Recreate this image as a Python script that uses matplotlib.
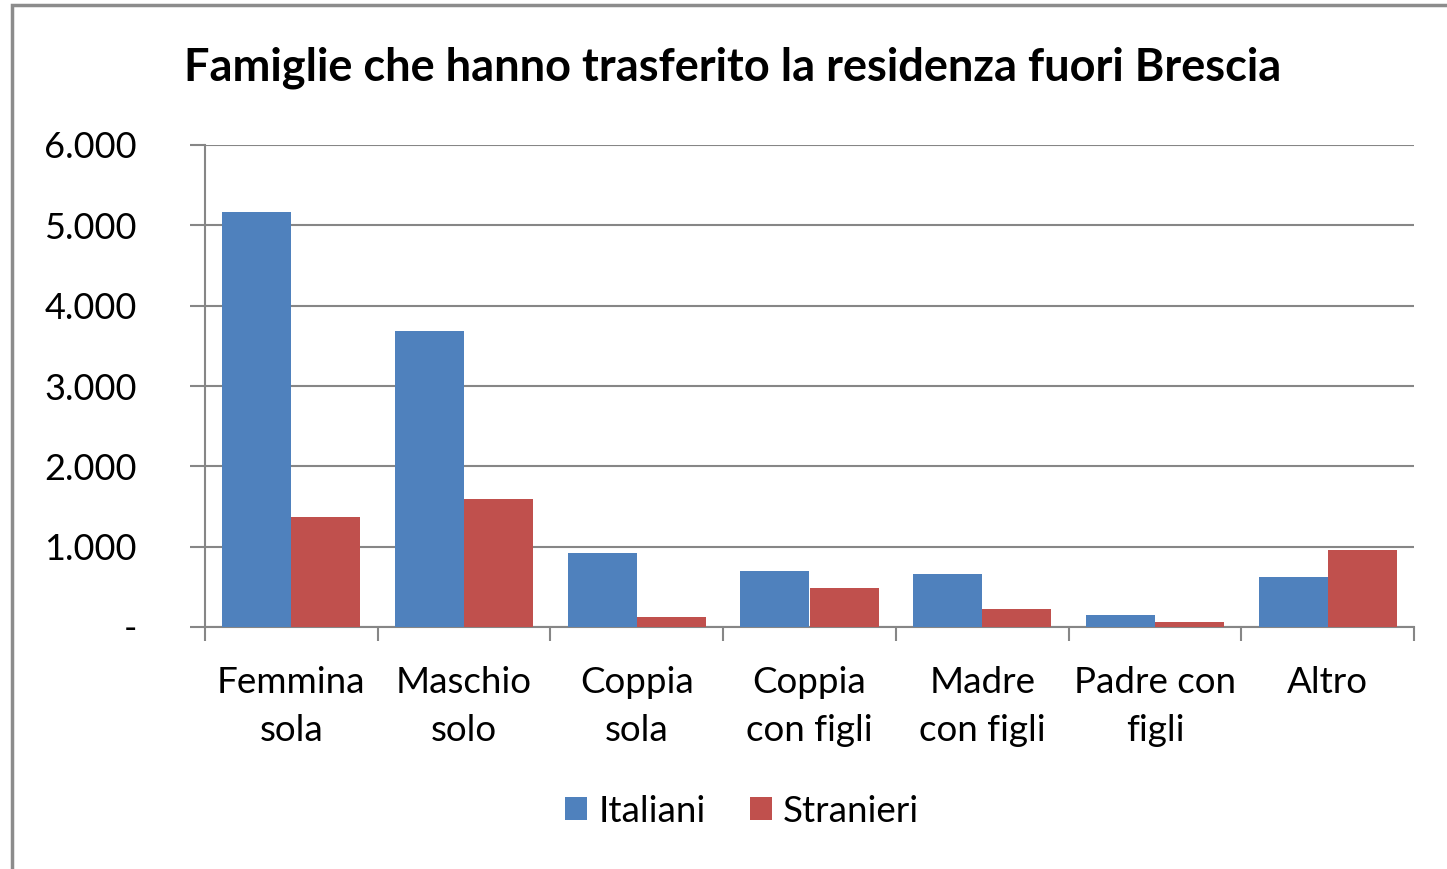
import matplotlib
matplotlib.use("Agg")
import matplotlib.pyplot as plt
import numpy as np
from matplotlib.patches import Rectangle
from matplotlib.ticker import FuncFormatter

categories = ["Femmina\nsola", "Maschio\nsolo", "Coppia\nsola", "Coppia\ncon figli",
              "Madre\ncon figli", "Padre con\nfigli", "Altro"]
italiani = [5170, 3685, 915, 700, 655, 150, 628]
stranieri = [1375, 1590, 128, 490, 224, 58, 962]
yticks = [0, 1000, 2000, 3000, 4000, 5000, 6000]
title = "Famiglie che hanno trasferito la residenza fuori Brescia"

plt.rcParams['font.family'] = ['Lato', 'DejaVu Sans']

W, H = 1447, 869
fig = plt.figure(figsize=(W / 100, H / 100), dpi=100)
fig.patch.set_facecolor("white")

# outer chart border
fig.patches.append(Rectangle((12 / W, -0.05), 1.2, 1 - 5 / H + 0.05, transform=fig.transFigure,
                             fill=False, edgecolor="#8c8c8c", linewidth=2.5, zorder=0))

ax = fig.add_axes([205 / W, 1 - 627 / H, (1414 - 205) / W, (627 - 145) / H])
x = np.arange(len(categories))
w = 0.4
ax.bar(x - w / 2, italiani, w, color="#4f81bd", label="Italiani", zorder=3)
ax.bar(x + w / 2, stranieri, w, color="#c0504d", label="Stranieri", zorder=3)

ax.set_xlim(-0.5, len(categories) - 0.5)
ax.set_ylim(0, 6000)
ax.set_yticks(yticks)
ax.yaxis.set_major_formatter(FuncFormatter(lambda v, p: "-" if v == 0 else f"{int(v):,}".replace(",", ".")))
ax.grid(axis="y", color="#868686", linewidth=1.5, zorder=0)
ax.set_axisbelow(True)

for s in ["top", "right"]:
    ax.spines[s].set_visible(False)
ax.spines["left"].set_color("#868686")
ax.spines["bottom"].set_color("#868686")
ax.spines["left"].set_linewidth(1.5)
ax.spines["bottom"].set_linewidth(1.5)

ax.set_xticks(np.arange(len(categories) + 1) - 0.5, minor=False)
ax.set_xticklabels([])
ax.tick_params(axis="x", which="major", length=10, width=1.5, color="#868686")
ax.set_xticks(x, minor=True)
ax.set_xticklabels(categories, minor=True, fontsize=26.5, linespacing=1.55)
ax.tick_params(axis="x", which="minor", length=0, pad=28)
ax.tick_params(axis="y", length=11, width=1.5, color="#868686", labelsize=26, pad=38)

fig.text(733 / W, 1 - 68 / H, title, ha="center", va="center", fontsize=32.5, fontweight="bold")

fig.legend(loc="center", bbox_to_anchor=(742 / W, 1 - 811 / H), ncol=2, frameon=False,
           fontsize=26.5, handlelength=0.6, handleheight=0.6, handletextpad=0.3, columnspacing=1.2)

fig.savefig("out.png", dpi=100)
